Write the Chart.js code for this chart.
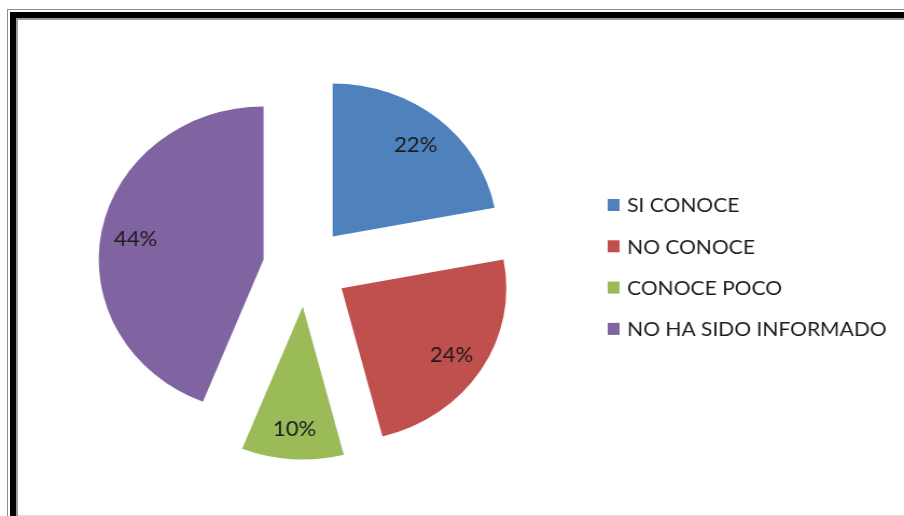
<!DOCTYPE html>
<html>
<head>
<meta charset="utf-8">
<script src="https://cdn.jsdelivr.net/npm/chart.js@4/dist/chart.umd.min.js"></script>
<style>
    html, body { margin: 0; padding: 0; background: #fff; overflow: hidden; }
    .line { position: absolute; width: 2000px; height: 2000px; }
    #outer { left: 7px; top: 9px; border-left: 1px solid #8e8e8e; border-top: 1px solid #8e8e8e; }
    #black { left: 10px; top: 12px; border-left: 6px solid #000; border-top: 6px solid #000; }
    #inner { left: 16px; top: 18px; border-left: 2px solid #9c9c9c; border-top: 2px solid #9c9c9c; }
    #bottom { position: absolute; left: 18px; top: 515px; width: 900px; height: 1px; background: #dcdcdc; }
    #chart { position: absolute; left: 0; top: 0; width: 904px; height: 516px; }
</style>
</head>
<body>
<div class="line" id="outer"></div>
<div class="line" id="black"></div>
<div class="line" id="inner"></div>
<div id="bottom"></div>
<canvas id="chart" width="839" height="516" style="width:904px;height:516px"></canvas>

<script>
// Survey answers (percent)
const categories = ['SI CONOCE', 'NO CONOCE', 'CONOCE POCO', 'NO HA SIDO INFORMADO'];
const values = [22, 24, 10, 44];
const colors = ['#4F81BD', '#C0504D', '#9BBB59', '#8064A2'];

const FONT = 'Lato, "Liberation Sans", sans-serif';
const EXPLODE = 39.6;   // distance each slice is pulled out from the centre

// Draw the arcs pulled apart by the same distance (the built-in offset also grows the radius)
const explodedSlices = {
    id: 'explodedSlices',
    beforeDatasetDraw(chart, args) {
        const ctx = chart.ctx;
        args.meta.data.forEach(arc => {
            const mid = (arc.startAngle + arc.endAngle) / 2;
            ctx.save();
            ctx.translate(Math.cos(mid) * EXPLODE, Math.sin(mid) * EXPLODE);
            arc.draw(ctx);
            ctx.restore();
        });
        return false;
    }
};

// Percentage labels inside each slice
const sliceLabels = {
    id: 'sliceLabels',
    afterDatasetsDraw(chart) {
        const ctx = chart.ctx;
        const meta = chart.getDatasetMeta(0);
        const total = values.reduce((a, b) => a + b, 0);
        ctx.save();
        ctx.font = '20.5px ' + FONT;
        ctx.fillStyle = '#1c1c1c';
        ctx.textAlign = 'center';
        ctx.textBaseline = 'middle';
        meta.data.forEach((arc, i) => {
            const mid = (arc.startAngle + arc.endAngle) / 2;
            const dist = EXPLODE + arc.outerRadius * 0.79;
            const pct = Math.round(values[i] / total * 100) + '%';
            ctx.fillText(pct, arc.x + Math.cos(mid) * dist, arc.y + Math.sin(mid) * dist + 2);
        });
        ctx.restore();
    }
};

// Legend column on the right
const sideLegend = {
    id: 'sideLegend',
    afterDraw(chart) {
        const ctx = chart.ctx;
        const left = 564;
        const top = 205;
        const step = 41.3;
        ctx.save();
        ctx.font = '19.5px ' + FONT;
        ctx.textBaseline = 'middle';
        categories.forEach((name, i) => {
            const cy = top + i * step;
            ctx.fillStyle = colors[i];
            ctx.fillRect(left, cy - 6, 11, 12);
            ctx.fillStyle = '#1c1c1c';
            ctx.fillText(name, left + 18, cy + 1);
        });
        ctx.restore();
    }
};

const chart = new Chart(document.getElementById('chart'), {
    type: 'pie',
    data: {
        labels: categories,
        datasets: [{
            data: values,
            backgroundColor: colors,
            borderWidth: 0,
            offset: 0,
            hoverOffset: 0
        }]
    },
    options: {
        responsive: false,
        animation: false,
        events: [],
        layout: {
            padding: { left: 130.5, right: 402.5, top: 114, bottom: 96 }
        },
        plugins: {
            legend: { display: false },
            tooltip: { enabled: false }
        }
    },
    plugins: [explodedSlices, sliceLabels, sideLegend]
});
</script>
</body>
</html>
